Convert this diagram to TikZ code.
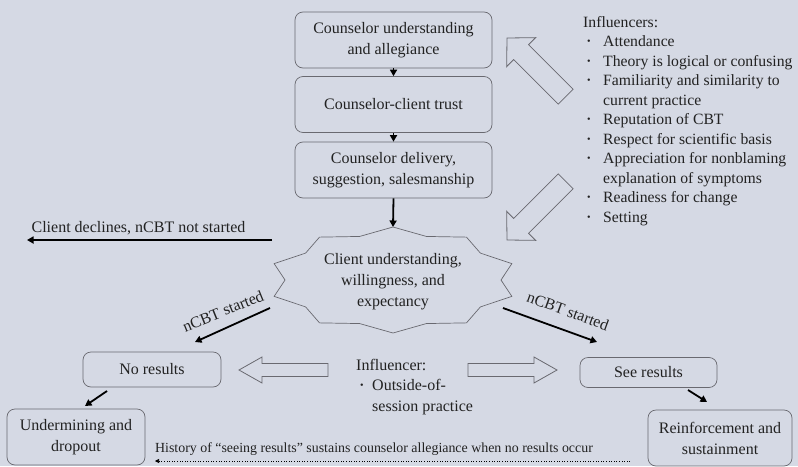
\documentclass[tikz,border=0pt]{standalone}
\usepackage{fontspec}
\setmainfont{Liberation Serif}
\usetikzlibrary{arrows.meta}
\definecolor{bg}{RGB}{213,217,228}
\definecolor{txt}{RGB}{34,34,34}
\definecolor{edge}{RGB}{105,105,112}
\newcommand{\mybul}[1]{\makebox[#1][l]{\hspace{4pt}\raisebox{2.2pt}{\fontsize{10}{10}\selectfont\textbullet}}}
\begin{document}
\begin{tikzpicture}[x=1pt,y=-1pt,
  box/.style={draw=edge, line width=0.7pt, rounded corners=8pt, align=center, inner sep=0pt, text=txt, font=\fontsize{16}{21}\selectfont},
  arr/.style={line width=1.8pt, -{Triangle[length=6.5pt,width=7pt]}},
  lbl/.style={text=txt, font=\fontsize{16}{21}\selectfont, inner sep=0pt},
  hollow/.style={draw=edge, line width=0.8pt},
  diagarrow/.pic={\draw[hollow] (0,0) -- (-20,20.5) -- (-20,10.5) -- (-83,10.5) -- (-83,-10.5) -- (-20,-10.5) -- (-20,-20.5) -- cycle;},
  horzarrow/.pic={\draw[hollow] (0,0) -- (-23,13) -- (-23,6.5) -- (-89,6.5) -- (-89,-6.5) -- (-23,-6.5) -- (-23,-13) -- cycle;},
]
\fill[bg] (0,0) rectangle (798,466);
\useasboundingbox (0,0) rectangle (798,466);

% top chain
\node[box, minimum width=197pt, minimum height=56pt] (b1) at (393.5,40) {Counselor understanding\\and allegiance};
\node[box, minimum width=197pt, minimum height=56pt] (b2) at (393.5,104.5) {Counselor-client trust};
\node[box, minimum width=197pt, minimum height=56pt] (b3) at (393.5,170) {Counselor delivery,\\suggestion, salesmanship};

% star
\draw[draw=edge, line width=0.7pt, shift={(393,280)}] (90:125 and 53)
  \foreach \k in {0,...,9} { -- ({108+36*\k}:108 and 45.8) -- ({126+36*\k}:125 and 53) } -- cycle;
\node[lbl, align=center] (client) at (393,282) {Client understanding,\\willingness, and\\expectancy};
\coordinate (startop) at (393,227);

\draw[arr] (b1.south) -- (b2.north);
\draw[arr] (b2.south) -- (b3.north);
\draw[arr] (b3.south) -- (startop);

% declines
\coordinate (decS) at (272,240);
\coordinate (decE) at (27,240);
\draw[arr] (decS) -- (decE);
\node[lbl] (decl) at (138.5,228) {Client declines, nCBT not started};

% nCBT started arrows
\coordinate (lS) at (270,308);
\coordinate (lE) at (195,342);
\draw[arr] (lS) -- (lE);
\node[lbl, rotate=22] (lstart) at (223,311) {nCBT started};
\coordinate (rS) at (503,308);
\coordinate (rE) at (597,342);
\draw[arr] (rS) -- (rE);
\node[lbl, rotate=-20] (rstart) at (568,311) {nCBT started};

% bottom boxes
\node[box, minimum width=138pt, minimum height=35pt] (nores) at (152,369.5) {No results};
\node[box, minimum width=137pt, minimum height=30pt] (seeres) at (648.5,372.5) {See results};
\node[box, minimum width=138pt, minimum height=56pt] (under) at (76,437) {Undermining and\\dropout};
\node[box, minimum width=144pt, minimum height=56pt] (reinf) at (720,438) {Reinforcement and\\sustainment};

\coordinate (uS) at (107,391);
\coordinate (uE) at (85,406);
\draw[arr] (uS) -- (uE);
\coordinate (sS) at (688,390);
\coordinate (sE) at (707,402);
\draw[arr] (sS) -- (sE);

% influencer (bottom)
\pic[rotate=180] at (239,370) {horzarrow};
\pic at (557,370) {horzarrow};
\node[lbl, anchor=north west, align=left, font=\fontsize{16}{20.5}\selectfont] (infl2) at (356,359)
  {Influencer:\\\mybul{16pt}Outside-of-\\\hspace{16pt}session practice};

% history
\coordinate (hS) at (630,461);
\coordinate (hE) at (155,461);
\draw[line width=0.6pt, dotted, -{Triangle[length=4pt,width=4pt]}] (hS) -- (hE);
\node[lbl, font=\fontsize{13.9}{16}\selectfont] (hist) at (374,449) {History of “seeing results” sustains counselor allegiance when no results occur};

% influencers (top right)
\pic[rotate=135] at (507,38) {diagarrow};
\pic[rotate=225] at (507,240) {diagarrow};
\node[lbl, anchor=north west, align=left, font=\fontsize{15.7}{19.5}\selectfont] (infl) at (583,16)
  {Influencers:\\
   \mybul{20pt}Attendance\\
   \mybul{20pt}Theory is logical or confusing\\
   \mybul{20pt}Familiarity and similarity to\\
   \hspace{20pt}current practice\\
   \mybul{20pt}Reputation of CBT\\
   \mybul{20pt}Respect for scientific basis\\
   \mybul{20pt}Appreciation for nonblaming\\
   \hspace{20pt}explanation of symptoms\\
   \mybul{20pt}Readiness for change\\
   \mybul{20pt}Setting};
\end{tikzpicture}
\end{document}
